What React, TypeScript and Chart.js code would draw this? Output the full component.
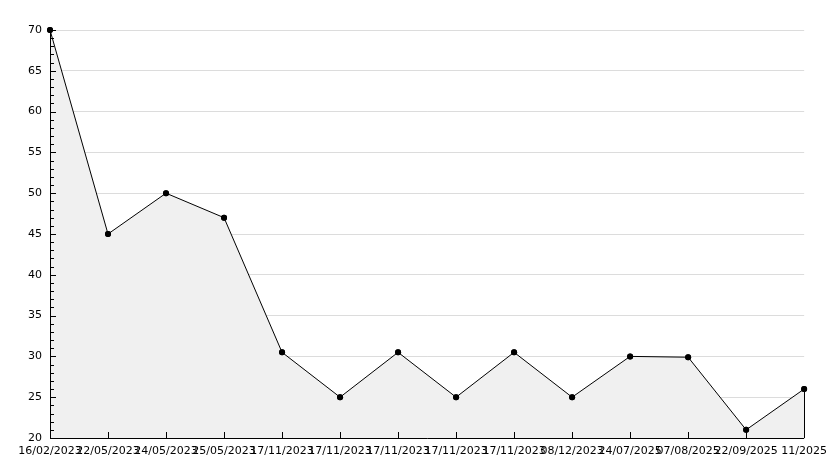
import React, { useEffect, useRef } from "react";
import { Chart, registerables } from "chart.js";

Chart.register(...registerables);

const categories = [
  "16/02/2023", "22/05/2023", "24/05/2023", "25/05/2023", "17/11/2023",
  "17/11/2023", "17/11/2023", "17/11/2023", "17/11/2023", "08/12/2023",
  "24/07/2025", "07/08/2025", "22/09/2025", "11/2025",
];
const values = [70, 45, 50, 47, 30.5, 25, 30.5, 25, 30.5, 25, 30, 29.9, 21, 26];
const yMin = 20;
const yMax = 70;
const yStep = 5;
const yMinorStep = 1;

const FONT = "'DejaVu Sans', sans-serif";

const ticksPlugin = {
  id: "customTicks",
  afterDatasetsDraw(chart: any) {
    const ctx = chart.ctx;
    const x = chart.scales.x;
    const y = chart.scales.y;
    const area = chart.chartArea;
    ctx.save();
    ctx.strokeStyle = "#000";
    ctx.lineWidth = 1;
    ctx.beginPath();
    for (let v = yMin; v <= yMax; v += yMinorStep) {
      const py = Math.round(y.getPixelForValue(v)) + 0.5;
      const len = (v - yMin) % yStep === 0 ? 6 : 4;
      ctx.moveTo(area.left, py);
      ctx.lineTo(area.left + len, py);
    }
    for (let i = 0; i < categories.length; i++) {
      const px = Math.round(x.getPixelForValue(i)) + 0.5;
      ctx.moveTo(px, area.bottom);
      ctx.lineTo(px, area.bottom - 6);
    }
    const last = values.length - 1;
    const lx = Math.round(x.getPixelForValue(last)) + 0.5;
    ctx.moveTo(lx, y.getPixelForValue(values[last]));
    ctx.lineTo(lx, area.bottom);
    const ax = Math.round(area.left) + 0.5;
    const ay = Math.round(area.bottom) + 0.5;
    ctx.moveTo(ax, area.top);
    ctx.lineTo(ax, ay);
    ctx.lineTo(area.right, ay);
    ctx.stroke();
    // redraw points on top so they are never clipped or covered
    const meta = chart.getDatasetMeta(0);
    ctx.fillStyle = "#000";
    meta.data.forEach((pt: any) => {
      ctx.beginPath();
      ctx.arc(pt.x, pt.y, 3, 0, Math.PI * 2);
      ctx.fill();
    });
    ctx.restore();
  },
};

export default function App() {
  const ref = useRef<HTMLCanvasElement | null>(null);
  useEffect(() => {
    if (!ref.current) return;
    const chart = new Chart(ref.current, {
      type: "line",
      data: {
        labels: categories,
        datasets: [
          {
            data: values,
            borderColor: "#000",
            borderWidth: 1,
            backgroundColor: "#f0f0f0",
            fill: "start",
            tension: 0,
            clip: false,
            pointRadius: 3,
            pointBackgroundColor: "#000",
            pointBorderColor: "#000",
            pointBorderWidth: 0,
          },
        ],
      },
      options: {
        animation: false,
        responsive: false,
        maintainAspectRatio: false,
        layout: { padding: { top: 30, right: 29, left: 0, bottom: 0 } },
        plugins: { legend: { display: false }, tooltip: { enabled: false } },
        scales: {
          x: {
            type: "category",
            offset: false,
            grid: { display: false, drawTicks: false },
            border: { display: false },
            ticks: {
              color: "#000",
              font: { family: FONT, size: 11 },
              maxRotation: 0,
              minRotation: 0,
              autoSkip: false,
              padding: 7,
            },
            afterFit: (s: any) => {
              s.height = 30;
            },
          },
          y: {
            min: yMin,
            max: yMax,
            grid: { color: "#dcdcdc", drawTicks: false, lineWidth: 1 },
            border: { display: false },
            ticks: {
              stepSize: yStep,
              color: "#000",
              font: { family: FONT, size: 11 },
              padding: 8,
            },
            afterFit: (s: any) => {
              s.width = 50;
            },
          },
        },
      },
      plugins: [ticksPlugin],
    });
    return () => chart.destroy();
  }, []);
  return (
    <div style={{ position: "absolute", left: 0, top: 0, width: 834, height: 468, background: "#fff" }}>
      <canvas ref={ref} width={834} height={468} style={{ display: "block" }} />
    </div>
  );
}
